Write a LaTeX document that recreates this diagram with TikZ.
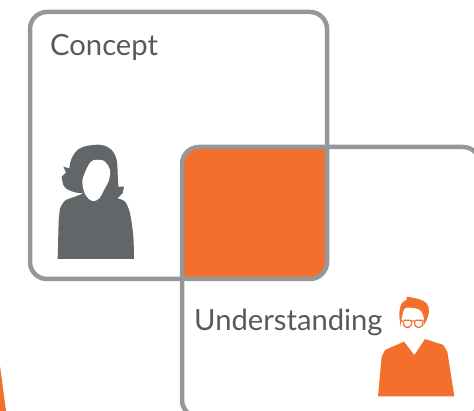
\documentclass[tikz,border=0pt]{standalone}
\usepackage{fontspec}
\setmainfont{Lato}
\definecolor{boxgray}{HTML}{94989A}
\definecolor{textgray}{HTML}{58595B}
\definecolor{darkgray}{HTML}{636668}
\definecolor{burnt}{HTML}{F36F2B}
\tikzset{
    frame/.style={draw=boxgray,line width=4.5pt,rounded corners=17pt},
    word/.style={anchor=base west,inner sep=0pt,text=textgray,font=\fontsize{29.2}{32}\selectfont}
}
\begin{document}
\begin{tikzpicture}[x=1pt,y=-1pt]

\def\rad{17pt}

\useasboundingbox (0,0) rectangle (474,411);
\clip (0,0) rectangle (474,411);

% overlap of the two boxes
\begin{scope}
    \clip[rounded corners=\rad] (30,12) rectangle (327,279);
    \fill[burnt,rounded corners=\rad] (182,147) rectangle (480,417);
\end{scope}

\draw[frame] (30,12) rectangle (327,279);
\draw[frame] (182,147) rectangle (480,417);

\node[word] (concept) at (50,56) {Concept};
\node[word] (understanding) at (194,331) {Understanding};

% woman
\begin{scope}[shift={(30,130)},scale=1/3]
    \fill[darkgray] (83,387) -- (86,270) -- plot[smooth,tension=0.5] coordinates {(90,235) (105,212) (135,200) (160,190)}
        -- plot[smooth,tension=0.55] coordinates {(160,190) (135,187) (112,178) (100,165) (95,140)}
        -- (108,128) -- (100,110) -- (118,115)
        -- plot[smooth,tension=0.6] coordinates {(118,115) (125,85) (145,58) (175,47) (215,45) (245,60) (260,90) (263,130) (265,170)}
        -- (282,170) -- (278,190) -- (262,205)
        -- plot[smooth,tension=0.5] coordinates {(262,205) (285,215) (300,250) (310,320) (312,387)} -- cycle;
    \fill[white] plot[smooth cycle,tension=0.6] coordinates {(183,95) (160,140) (158,168) (168,197) (187,213) (207,206) (222,180) (237,150) (240,120) (227,97) (212,90)};
\end{scope}

% man
\begin{scope}[shift={(360,285)},scale=1/3]
    \fill[burnt] (54,334) -- (65,215) -- (75,195) -- (132,170) -- (163,210) -- (195,162) -- (250,180) -- (262,200) -- (283,334) -- cycle;
    \fill[burnt] (122,125) -- plot[smooth,tension=0.6] coordinates {(122,125) (118,85) (125,55) (140,45)}
        -- (140,35)
        -- plot[smooth,tension=0.6] coordinates {(140,35) (175,42) (200,55) (207,80) (200,105) (190,122)}
        -- plot[smooth,tension=0.6] coordinates {(190,122) (192,100) (180,75) (150,68) (133,72) (125,100) (122,125)} -- cycle;
    \draw[burnt,line width=1.2pt,rounded corners=2pt] (125,106) -- (130,106) -- (132,127) -- (152,127) -- (156,106) -- (130,106);
    \draw[burnt,line width=1.2pt,rounded corners=2pt] (163,106) -- (166,127) -- (186,127) -- (190,106) -- cycle;
    \draw[burnt,line width=1.2pt] (156,108) -- (163,108) (190,106) -- (196,105);
\end{scope}

% piece at the lower left
\fill[burnt] (0,366) -- (6,411) -- (0,411) -- cycle;

\end{tikzpicture}
\end{document}
